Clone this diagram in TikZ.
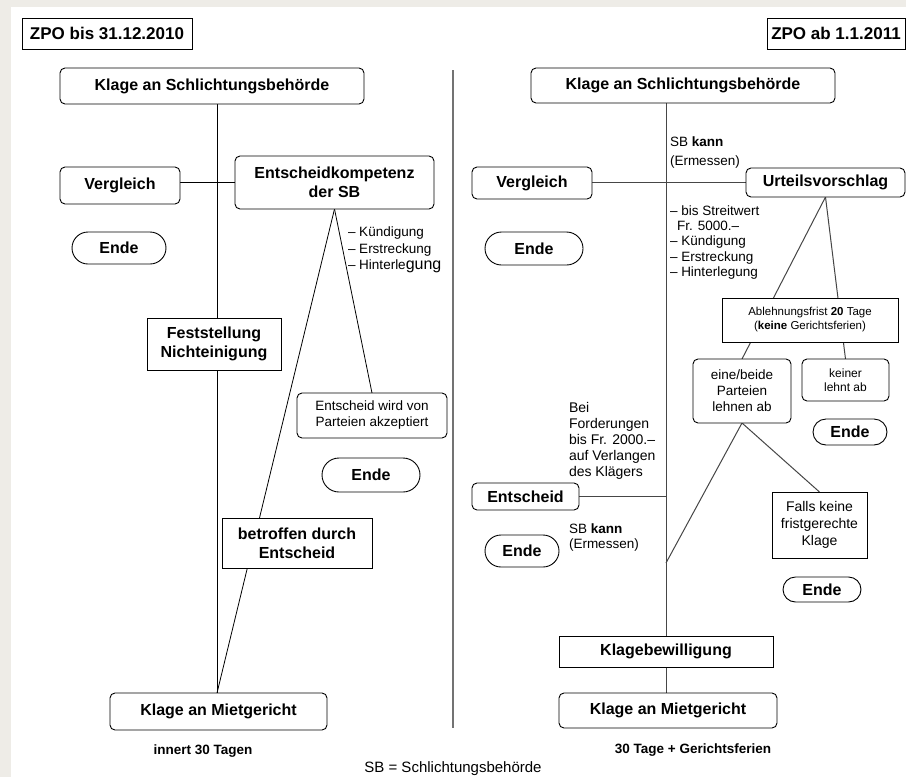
\documentclass[tikz,border=0pt]{standalone}
\usepackage{fontspec}
\setmainfont{Liberation Sans}
\usetikzlibrary{shapes.misc}
\newcommand\fs[2]{\fontsize{#1}{#2}\selectfont}
\definecolor{paper}{RGB}{238,236,231}
\definecolor{rline}{RGB}{70,70,70}
\pgfdeclarelayer{bg}
\pgfsetlayers{bg,main}
\begin{document}
\begin{tikzpicture}[x=1pt,y=-1pt,
  every node/.style={inner sep=0pt, outer sep=0pt},
  bx/.style={draw=black, line width=0.9pt, fill=white, align=center, font=\fs{16}{19}\bfseries},
  rb/.style={bx, rounded corners=5pt},
  rbn/.style={rb, font=\fs{13.5}{16}},
  sbx/.style={bx},
  endebox/.style={bx, rounded rectangle},
  txt/.style={align=left, font=\fs{13.5}{16.5}},
  ln/.style={line width=0.8pt, draw=black},
  lnr/.style={line width=1pt, draw=rline},
]
\useasboundingbox (0,0) rectangle (906,777);
\begin{pgfonlayer}{bg}
\fill[paper] (0,0) rectangle (906,777);
\fill[white] (11,7) rectangle (906,777);
\end{pgfonlayer}

% ---------------- left side ----------------
\node[sbx, font=\fs{17}{20}\bfseries, minimum width=170, minimum height=31] (zpo1) at (107,33.5) {ZPO bis 31.12.2010};
\node[rb, minimum width=304, minimum height=36] (ks1) at (212,86) {Klage an Schlichtungsbehörde};
\node[rb, minimum width=120, minimum height=37] (v1) at (120,185.5) {Vergleich};
\node[rb, minimum width=199, minimum height=53] (ek) at (334.5,182.5) {Entscheidkompetenz\\der SB};
\node[endebox, minimum width=94, minimum height=32] (e1) at (119,248) {Ende};
\node[txt, anchor=north west] (l1) at (348,227) {– Kündigung\\– Erstreckung\\– Hinterle{\fs{16}{16.5}gung}};
\node[sbx, minimum width=134, minimum height=52] (fn) at (214,344) {Feststellung\\Nichteinigung};
\node[rbn, minimum width=150, minimum height=45] (ew) at (372,415.5) {Entscheid wird von\\Parteien akzeptiert};
\node[endebox, minimum width=98, minimum height=34] (e2) at (371,475) {Ende};
\node[sbx, minimum width=150, minimum height=50] (bd) at (297,543) {betroffen durch\\Entscheid};
\node[rb, minimum width=217, minimum height=37] (km1) at (218.5,711.5) {Klage an Mietgericht};
\node[font=\fs{13.5}{16}\bfseries] (in30) at (203,751) {innert 30 Tagen};
\node[font=\fs{15}{18}] (sbleg) at (453,769) {SB = Schlichtungsbehörde};

\coordinate (t1) at (217,0);
\coordinate (dtop) at (453,70);
\coordinate (dbot) at (453,728);

\begin{pgfonlayer}{bg}
\draw[ln] (ks1.south -| t1) -- (km1.north -| t1);
\draw[ln] (ek.west -| v1.east) -- (ek.west);
\draw[ln] (ek.south) -- (km1.north -| t1);
\draw[ln] (ek.south) -- (ew.north);
\draw[line width=2pt, draw=black!55] (dtop) -- (dbot);
\end{pgfonlayer}

% ---------------- right side ----------------
\node[sbx, font=\fs{17}{20}\bfseries, minimum width=138, minimum height=31] (zpo2) at (836,33.5) {ZPO ab 1.1.2011};
\node[rb, minimum width=304, minimum height=35] (ks2) at (683,85.5) {Klage an Schlichtungsbehörde};
\node[txt, font=\fs{13.5}{19}, anchor=north west] (sbk1) at (670,137) {SB \textbf{kann}\\(Ermessen)};
\node[rb, minimum width=120, minimum height=32] (v2) at (532,183) {Vergleich};
\node[rb, minimum width=159, minimum height=29] (uv) at (825.5,182.5) {Urteilsvorschlag};
\node[txt, font=\fs{13.5}{15.3}, anchor=north west] (l2) at (670,205.5) {– bis Streitwert\\\hspace*{7pt}Fr. 5000.–\\– Kündigung\\– Erstreckung\\– Hinterlegung};
\node[endebox, minimum width=98, minimum height=33] (e3) at (534,248.5) {Ende};
\node[sbx, font=\fs{11.5}{14}, minimum width=176, minimum height=44] (af) at (810,320) {Ablehnungsfrist \textbf{20} Tage\\(\textbf{keine} Gerichtsferien)};
\node[rbn, minimum width=98, minimum height=64] (eb) at (742,391) {eine/beide\\Parteien\\lehnen ab};
\node[rb, font=\fs{12}{13.5}, minimum width=87, minimum height=42] (kl) at (845.5,380) {keiner\\lehnt ab};
\node[endebox, minimum width=74, minimum height=26] (e4) at (850,432) {Ende};
\node[txt, font=\fs{14}{16.2}, anchor=north west] (bei) at (569,402) {Bei\\Forderungen\\bis Fr. 2000.–\\auf Verlangen\\des Klägers};
\node[rb, minimum width=107, minimum height=27] (ent) at (525.5,496.5) {Entscheid};
\node[txt, font=\fs{13.5}{15}, anchor=north west] (sbk2) at (569,523.5) {SB \textbf{kann}\\(Ermessen)};
\node[endebox, minimum width=74, minimum height=32] (e5) at (522,551) {Ende};
\node[sbx, font=\fs{14}{17}, minimum width=95, minimum height=66] (fk) at (819.5,525) {Falls keine\\fristgerechte\\Klage};
\node[endebox, minimum width=78, minimum height=25] (e6) at (822,589.5) {Ende};
\node[sbx, minimum width=214, minimum height=31] (kb) at (666,651.5) {Klagebewilligung};
\node[rb, minimum width=218, minimum height=35] (km2) at (668,710.5) {Klage an Mietgericht};
\node[font=\fs{13.5}{16}\bfseries] (t30) at (693,750) {30 Tage + Gerichtsferien};

\coordinate (t2) at (666,0);
\coordinate (j) at (666,563);

\begin{pgfonlayer}{bg}
\draw[lnr] (ks2.south -| t2) -- (kb.north -| t2);
\draw[lnr] (kb.south -| t2) -- (km2.north -| t2);
\draw[lnr] (uv.west -| v2.east) -- (uv.west);
\draw[lnr] (uv.south) -- (eb.north);
\draw[lnr] (uv.south) -- (kl.north);
\draw[lnr] (eb.south) -- (j);
\draw[lnr] (eb.south) -- (fk.north);
\draw[lnr] (ent.east) -- (ent.east -| t2);
\end{pgfonlayer}
\end{tikzpicture}
\end{document}
